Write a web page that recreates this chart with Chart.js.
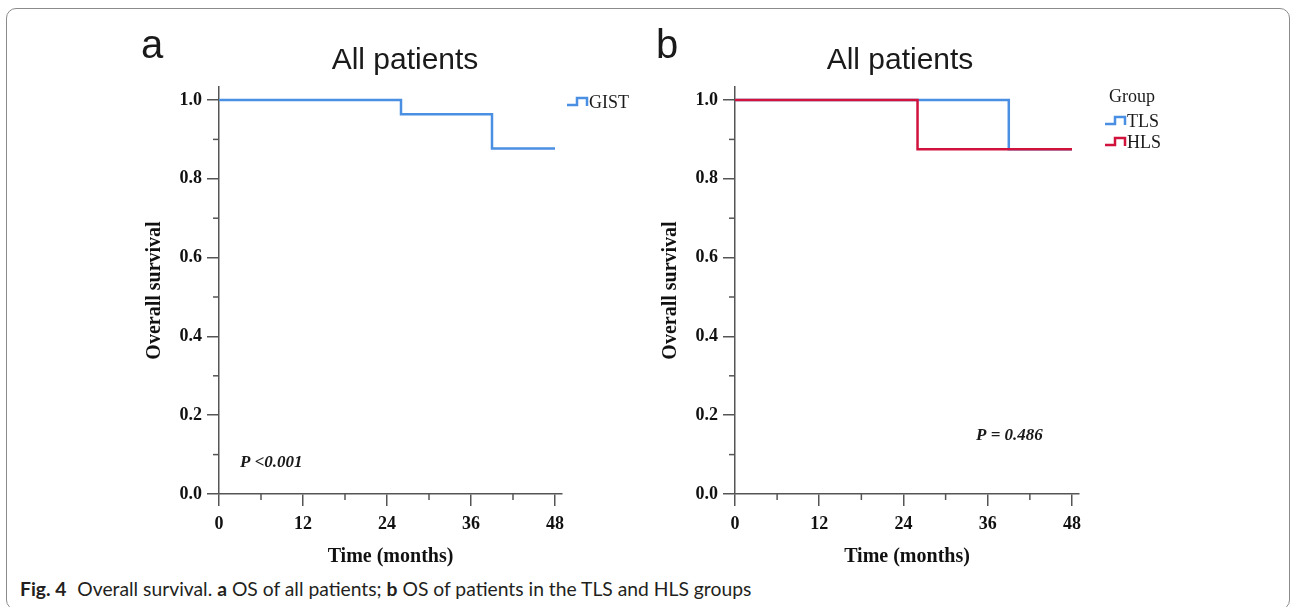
<!DOCTYPE html>
<html>
<head>
<meta charset="utf-8">
<title>Overall survival</title>
<script src="https://cdn.jsdelivr.net/npm/chart.js@4.4.1/dist/chart.umd.min.js"></script>
<style>
  html, body { margin: 0; padding: 0; background: #fff; }
  body { width: 1292px; height: 607px; position: relative; overflow: hidden; }
  .frame { position: absolute; left: 6px; top: 8px; width: 1282px; height: 600px;
           border: 1.5px solid #8c8c8c; border-radius: 10px; }
  #wrapA { position: absolute; left: 0; top: 0; }
  #wrapB { position: absolute; left: 640px; top: 0; }
  .caption { position: absolute; left: 20px; top: 577px; font-family: Lato, "Noto Sans", sans-serif;
             font-size: 19.3px; color: #231f20; white-space: nowrap; }
  .caption b { font-weight: bold; margin-right: 6px; }
</style>
</head>
<body>
<div class="frame"></div>
<div id="wrapA"><canvas id="chartA" width="640" height="575"></canvas></div>
<div id="wrapB"><canvas id="chartB" width="652" height="575"></canvas></div>
<div class="caption"><b>Fig. 4</b> Overall survival. <b style="margin-right:0">a</b> OS of all patients; <b style="margin-right:0">b</b> OS of patients in the TLS and HLS groups</div>

<script>
// Kaplan-Meier steps (time in months, survival)
var timeGIST = [0, 26, 39, 48];
var survGIST = [1.0, 0.964, 0.877, 0.877];

var timeTLS = [0, 39, 48];
var survTLS = [1.0, 0.875, 0.875];
var timeHLS = [0, 26, 48];
var survHLS = [1.0, 0.875, 0.875];

var xTicks = [0, 12, 24, 36, 48];
var xMinor = [6, 18, 30, 42];
var yTicks = [0, 0.2, 0.4, 0.6, 0.8, 1.0];
var yMinor = [0.1, 0.3, 0.5, 0.7, 0.9];

var axisColor = '#555';
var blue = '#4a8fe2';
var red = '#d0123c';
var serif = '"Liberation Serif", "Times New Roman", serif';
var sans = '"Liberation Sans", Arial, sans-serif';

function toPoints(t, s) {
  return t.map(function (v, i) { return { x: v, y: s[i] }; });
}

// short unlabelled ticks between the labelled ones
var minorTicks = {
  id: 'minorTicks',
  afterDraw: function (chart) {
    var ctx = chart.ctx, x = chart.scales.x, y = chart.scales.y;
    ctx.save();
    ctx.strokeStyle = axisColor;
    ctx.lineWidth = 1.5;
    xMinor.forEach(function (v) {
      var px = x.getPixelForValue(v);
      ctx.beginPath(); ctx.moveTo(px, y.bottom); ctx.lineTo(px, y.bottom + 6); ctx.stroke();
    });
    yMinor.forEach(function (v) {
      var py = y.getPixelForValue(v);
      ctx.beginPath(); ctx.moveTo(x.left, py); ctx.lineTo(x.left - 6, py); ctx.stroke();
    });
    ctx.restore();
  }
};

// panel letter, title, p value and the step-glyph legend
var panelText = {
  id: 'panelText',
  afterDraw: function (chart, args, o) {
    var ctx = chart.ctx;
    ctx.save();
    ctx.fillStyle = '#1a1a1a';
    ctx.textBaseline = 'alphabetic';
    ctx.textAlign = 'left';
    ctx.font = '40px ' + sans;
    ctx.fillText(o.letter, o.letterX, 58);
    ctx.textAlign = 'center';
    ctx.font = '30px ' + sans;
    ctx.fillText(o.title, o.titleX, 69);

    ctx.textAlign = 'left';
    ctx.textBaseline = 'middle';
    ctx.font = 'italic bold 17px ' + serif;
    ctx.fillText(o.pText, o.pX, o.pY);

    ctx.font = '18px ' + serif;
    var ly = o.legendY;
    if (o.legendTitle) {
      ctx.fillText(o.legendTitle, o.legendX + 4, ly);
      ly += 24;
    }
    chart.data.datasets.forEach(function (ds) {
      var gx = o.legendX;
      ctx.strokeStyle = ds.borderColor;
      ctx.lineWidth = 2.5;
      ctx.beginPath();
      ctx.moveTo(gx, ly + 3);
      ctx.lineTo(gx + 10, ly + 3);
      ctx.lineTo(gx + 10, ly - 4);
      ctx.lineTo(gx + 20, ly - 4);
      ctx.lineTo(gx + 20, ly + 4);
      ctx.stroke();
      ctx.fillStyle = '#1a1a1a';
      ctx.fillText(ds.label, gx + 22, ly + 1);
      ly += 21;
    });
    ctx.restore();
  }
};

function makeChart(canvasId, datasets, panel) {
  return new Chart(document.getElementById(canvasId), {
    type: 'line',
    data: { datasets: datasets },
    options: {
      responsive: false,
      animation: false,
      layout: { padding: { left: panel.padLeft, right: panel.padRight, top: 87, bottom: 0 } },
      plugins: {
        legend: { display: false },
        tooltip: { enabled: false },
        panelText: panel
      },
      scales: {
        x: {
          type: 'linear', min: 0, max: 49,
          afterBuildTicks: function (s) { s.ticks = xTicks.map(function (v) { return { value: v }; }); },
          afterFit: function (s) { s.height = 81; },
          grid: { drawOnChartArea: false, tickLength: 12, color: axisColor, lineWidth: 1.5 },
          border: { color: axisColor, width: 1.5 },
          ticks: { padding: 8, color: '#111', maxRotation: 0, autoSkip: false,
                   font: { family: serif, size: 18, weight: 'bold' } },
          title: { display: true, text: 'Time (months)', color: '#111',
                   font: { family: serif, size: 20, weight: 'bold' }, padding: { top: 4, bottom: 6 } }
        },
        y: {
          min: 0, max: 1.033,
          afterBuildTicks: function (s) { s.ticks = yTicks.map(function (v) { return { value: v }; }); },
          afterFit: function (s) { s.width = 89; },
          grid: { drawOnChartArea: false, tickLength: 12, color: axisColor, lineWidth: 1.5 },
          border: { color: axisColor, width: 1.5 },
          ticks: { padding: 5, color: '#111',
                   font: { family: serif, size: 18, weight: 'bold' },
                   callback: function (v) { return Number(v).toFixed(1); } },
          title: { display: true, text: 'Overall survival', color: '#111',
                   font: { family: serif, size: 20, weight: 'bold' }, padding: { top: 13, bottom: 4 } }
        }
      }
    },
    plugins: [minorTicks, panelText]
  });
}

makeChart('chartA', [
  { label: 'GIST', data: toPoints(timeGIST, survGIST), stepped: true,
    borderColor: blue, borderWidth: 2.5, pointRadius: 0, fill: false }
], {
  padLeft: 130, padRight: 78,
  letter: 'a', letterX: 141,
  title: 'All patients', titleX: 405,
  pText: 'P <0.001', pX: 240, pY: 463,
  legendX: 567, legendY: 102
});

makeChart('chartB', [
  { label: 'TLS', data: toPoints(timeTLS, survTLS), stepped: true, order: 2,
    borderColor: blue, borderWidth: 2.5, pointRadius: 0, fill: false },
  { label: 'HLS', data: toPoints(timeHLS, survHLS), stepped: true, order: 1,
    borderColor: red, borderWidth: 2.5, pointRadius: 0, fill: false }
], {
  padLeft: 6, padRight: 213,
  letter: 'b', letterX: 16,
  title: 'All patients', titleX: 260,
  pText: 'P = 0.486', pX: 336, pY: 436,
  legendX: 465, legendY: 97, legendTitle: 'Group'
});
</script>
</body>
</html>
